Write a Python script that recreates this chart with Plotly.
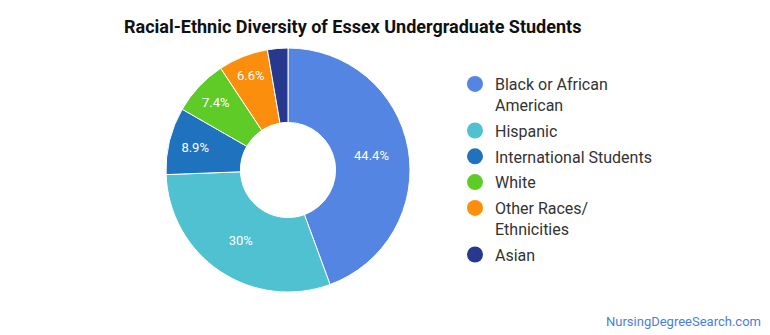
import plotly.graph_objects as go

categories = ["Black or African American", "Hispanic", "International Students", "White", "Other Races/ Ethnicities", "Asian"]
legend_names = ["Black or African<br>American", "Hispanic", "International Students", "White", "Other Races/<br>Ethnicities", "Asian"]
values = [44.4, 30.0, 8.9, 7.4, 6.6, 2.7]
labels_text = ["44.4%", "30%", "8.9%", "7.4%", "6.6%", ""]
colors = ["#5485E3", "#4FC1D0", "#1F72BE", "#5FCB27", "#FB8E0C", "#27398F"]

W, H = 770, 335
cx, cy, r = 288, 170, 122

fig = go.Figure()
fig.add_trace(go.Pie(
    labels=categories, values=values, text=labels_text,
    texttemplate="%{text}", textinfo="text", textposition="inside",
    insidetextorientation="horizontal",
    textfont=dict(family="Roboto", size=13, color="white"),
    marker=dict(colors=colors, line=dict(color="white", width=1)),
    hole=0.39, sort=False, direction="clockwise", rotation=0,
    showlegend=False,
    domain=dict(x=[(cx - r) / W, (cx + r) / W], y=[1 - (cy + r) / H, 1 - (cy - r) / H]),
))
for i, (name, c) in enumerate(zip(legend_names, colors)):
    fig.add_trace(go.Scatter(x=[None], y=[None], mode="markers", name=name,
                             legendgroup=f"g{i}",
                             marker=dict(color=c, size=16, symbol="circle"),
                             showlegend=True))

fig.update_layout(
    width=W, height=H,
    margin=dict(l=0, r=0, t=0, b=0),
    paper_bgcolor="white", plot_bgcolor="white",
    xaxis=dict(visible=False), yaxis=dict(visible=False),
    title=dict(text="<b>Racial-Ethnic Diversity of Essex Undergraduate Students</b>",
               x=124 / W, xanchor="left", y=1 - 27 / H, yanchor="middle",
               font=dict(family="Roboto", size=18, color="#111111")),
    legend=dict(x=455 / W, y=1 - 67 / H, xanchor="left", yanchor="top",
                font=dict(family="Roboto", size=16, color="#333333"),
                valign="top", tracegroupgap=2, bgcolor="rgba(0,0,0,0)"),
    annotations=[dict(text="NursingDegreeSearch.com", x=763 / W, y=1 - 321 / H,
                      xref="paper", yref="paper", xanchor="right", yanchor="middle",
                      showarrow=False,
                      font=dict(family="Roboto", size=13, color="#4A7FD6"))],
)
fig.write_html("out.html")
